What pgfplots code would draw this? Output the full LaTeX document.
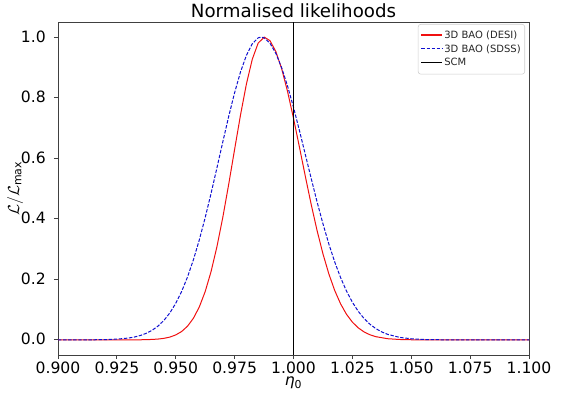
\documentclass[border=0pt]{standalone}
\usepackage{fontspec}
\setmainfont{DejaVu Sans}
\usepackage{pgfplots}
\pgfplotsset{compat=1.18}
\usetikzlibrary{calc}
\definecolor{desi}{HTML}{F01010}
\definecolor{sdss}{HTML}{1010D0}

\begin{document}
\begin{tikzpicture}
  \begin{axis}[
      scale only axis, width=353.25pt, height=249.75pt,
      xmin=0.9, xmax=1.1, ymin=-0.05, ymax=1.05,
      xtick={0.9,0.925,0.95,0.975,1.0,1.025,1.05,1.075,1.1},
      ytick={0,0.2,0.4,0.6,0.8,1.0},
      scaled ticks=false,
      every x tick label/.style={/pgf/number format/fixed, /pgf/number format/fixed zerofill,
        /pgf/number format/precision=3, anchor=base},
      every y tick label/.style={/pgf/number format/fixed, /pgf/number format/fixed zerofill,
        /pgf/number format/precision=1, anchor=east},
      xticklabel shift=0pt, yticklabel shift=0pt,
      /pgf/number format/assume math mode=true,
      tick label style={font=\fontsize{11.7}{13}\selectfont, inner sep=0pt},
      xticklabel style={yshift=-11.2pt},
      yticklabel style={xshift=-6pt, yshift=0.5pt},
      tick align=outside, xtick pos=lower, ytick pos=left,
      major tick length=3pt,
      every tick/.style={black!75, line width=0.6pt},
      axis line style={black!75, line width=0.6pt},
      title={Normalised likelihoods},
      every axis title/.style={font=\fontsize{13.65}{15}\selectfont, at={(0.5,1)}, anchor=base, inner sep=0pt, yshift=3.6pt},
      xlabel={{\itshape η}\textsubscript{0}},
      every axis x label/.style={font=\fontsize{11.7}{13}\selectfont, at={(0.5,0)}, anchor=base, inner sep=0pt, yshift=-23pt},
      ylabel={$\mathcal{L}/\mathcal{L}_{\mathrm{max}}$},
      every axis y label/.style={font=\fontsize{11.7}{13}\selectfont, at={(0,0.5)}, rotate=90, anchor=south, inner sep=0pt, yshift=26pt},
      legend style={at={(axis description cs:0.9915,0.994)}, anchor=north east,
        font=\fontsize{7.5}{9}\selectfont, text=black!85, draw=black!20, rounded corners=2pt,
        inner xsep=2pt, inner ysep=3.8pt, row sep=1.2pt, nodes={inner sep=1pt},
        cells={anchor=west}},
      legend image code/.code={\draw[#1, line width=0.9pt] (0pt,0.4pt) -- (15.75pt,0.4pt);},
    ]
    \addplot[draw=desi, line width=0.75pt, no markers] coordinates {
      (0.900,0) (0.920,0.000002) (0.930,0.00006) (0.935,0.0003) (0.940,0.0014)
      (0.9425,0.0027) (0.945,0.0051) (0.9475,0.0092) (0.950,0.0163) (0.9525,0.0276)
      (0.955,0.0452) (0.9575,0.0714) (0.960,0.1087) (0.9625,0.1595) (0.965,0.2258)
      (0.9675,0.3082) (0.970,0.4056) (0.9725,0.5146) (0.975,0.6296) (0.9775,0.7429)
      (0.980,0.8451) (0.9825,0.9270) (0.985,0.9805) (0.9876,1.0000) (0.990,0.9884)
      (0.9925,0.9525) (0.995,0.8949) (0.9975,0.8197) (1.000,0.7320) (1.0025,0.6374)
      (1.005,0.5411) (1.0075,0.4478) (1.010,0.3614) (1.0125,0.2843) (1.015,0.2181)
      (1.0175,0.1631) (1.020,0.1189) (1.0225,0.0845) (1.025,0.0586) (1.0275,0.0396)
      (1.030,0.0261) (1.0325,0.0167) (1.035,0.0105) (1.040,0.0038) (1.045,0.0013)
      (1.050,0.0004) (1.060,0.00002) (1.100,0)
    };
    \addlegendentry{3D BAO (DESI)}
    \addplot[draw=sdss, line width=0.75pt, dash pattern=on 2.6pt off 1.2pt, no markers] coordinates {
      (0.900,0.000006) (0.910,0.00009) (0.915,0.0003) (0.920,0.0009) (0.925,0.0024)
      (0.930,0.0061) (0.9325,0.0095) (0.935,0.0145) (0.9375,0.0218) (0.940,0.0319)
      (0.9425,0.0458) (0.945,0.0646) (0.9475,0.0891) (0.950,0.1206) (0.9525,0.1599)
      (0.955,0.2078) (0.9575,0.2646) (0.960,0.3302) (0.9625,0.4039) (0.965,0.4841)
      (0.9675,0.5686) (0.970,0.6547) (0.9725,0.7386) (0.975,0.8167) (0.9775,0.8850)
      (0.980,0.9398) (0.9825,0.9781) (0.985,0.9977) (0.9862,1.0000) (0.9875,0.9977)
      (0.990,0.9802) (0.9925,0.9465) (0.995,0.8983) (0.9975,0.8379) (1.000,0.7681)
      (1.0025,0.6921) (1.005,0.6129) (1.0075,0.5335) (1.010,0.4563) (1.0125,0.3837)
      (1.015,0.3170) (1.0175,0.2575) (1.020,0.2055) (1.0225,0.1612) (1.025,0.1243)
      (1.0275,0.0942) (1.030,0.0702) (1.0325,0.0514) (1.035,0.0370) (1.0375,0.0261)
      (1.040,0.0182) (1.045,0.0083) (1.050,0.0036) (1.055,0.0014) (1.060,0.0005)
      (1.070,0.00006) (1.080,0) (1.100,0)
    };
    \addlegendentry{3D BAO (SDSS)}
    \addplot[draw=black, line width=0.9pt, no markers] coordinates {(1.0,-0.05) (1.0,1.05)};
    \addlegendentry{SCM}
  \end{axis}
  \pgfresetboundingbox
  \path (current axis.south west) ++(-43.5pt,-31.5pt) rectangle ($(current axis.north east)+(24.75pt,16.5pt)$);
\end{tikzpicture}
\end{document}
